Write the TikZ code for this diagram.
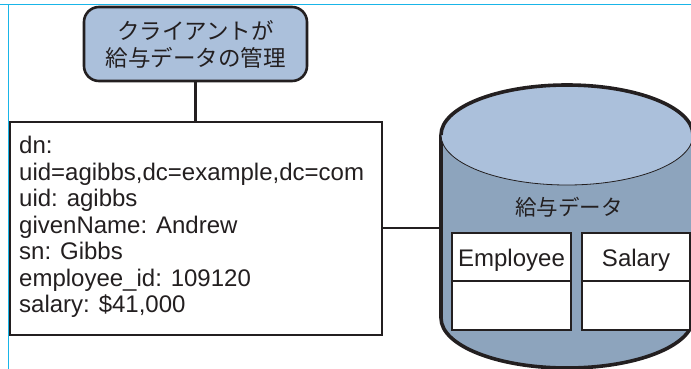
\documentclass[tikz,border=0pt]{standalone}
\usepackage{fontspec}
\setmainfont{Liberation Sans}
\newfontfamily\jpfont{Noto Sans CJK JP}
\definecolor{topblue}{HTML}{ABC0DB}
\definecolor{sideblue}{HTML}{8DA4BD}
\definecolor{ink}{HTML}{231F20}
\definecolor{guide}{HTML}{19B5E8}
\tikzset{
  thickbox/.style={draw=ink,line width=2.2pt,fill=white,inner sep=0pt,outer sep=0pt},
  cell/.style={draw=ink,line width=2pt,fill=white,inner sep=0pt,outer sep=0pt,font=\fontsize{24}{26}\selectfont,text=ink},
  conn/.style={draw=ink,line width=2.2pt},
}
\begin{document}
\begin{tikzpicture}[x=1pt,y=-1pt]
\useasboundingbox (0,0) rectangle (691,369);
\draw[guide,line width=1.1pt] (0,4.7) -- (691,4.7);
\draw[guide,line width=1.1pt] (8.4,4.7) -- (8.4,369);
% client
\node[draw=ink,line width=2.6pt,fill=topblue,rounded corners=15pt,minimum width=223pt,minimum height=74pt,inner sep=0pt,outer sep=0pt,
  align=center,text=ink,font=\jpfont\fontsize{22.5}{27}\selectfont] (client) at (195.5,44) {クライアントが\\給与データの管理};
% entry
\node[thickbox,minimum width=372pt,minimum height=213pt] (entry) at (196,228.5) {};
\node[anchor=north west,inner sep=0pt,align=left,text=ink,font=\fontsize{24}{26.5}\selectfont] (entrytext) at (19,136)
 {dn:\\uid=agibbs,dc=example,dc=com\\uid: agibbs\\givenName: Andrew\\sn: Gibbs\\employee\_id: 109120\\salary: \$41,000};
% cylinder
\begin{scope}
\clip (0,0) rectangle (691,369);
\fill[sideblue] (441,135) -- (441,318) arc[start angle=180,end angle=0,x radius=126,y radius=50] -- (693,135) -- cycle;
\draw[ink,line width=3.6pt] (441,135) -- (441,318) arc[start angle=180,end angle=0,x radius=126,y radius=50] -- (693,135);
\fill[topblue] (567,135) ellipse[x radius=126,y radius=50];
\draw[ink,line width=0.8pt] (441,135) arc[start angle=180,end angle=0,x radius=126,y radius=50];
\draw[ink,line width=3.6pt] (441,135) arc[start angle=180,end angle=360,x radius=126,y radius=50];
\end{scope}
\node[inner sep=0pt,text=ink,font=\jpfont\fontsize{21.5}{26}\selectfont] (dblabel) at (569,207) {給与データ};
\coordinate (dbleft) at (441,228);
% tables
\node[cell,minimum width=119pt,minimum height=48.5pt,text depth=0pt] (emp) at (511.5,257.2) {\raisebox{-2pt}{Employee}};
\node[cell,minimum width=119pt,minimum height=48.5pt] (empb) at (511.5,305.7) {};
\node[cell,minimum width=108pt,minimum height=48.5pt,text depth=0pt] (sal) at (636,257.2) {\raisebox{-2pt}{Salary}};
\node[cell,minimum width=108pt,minimum height=48.5pt] (salb) at (636,305.7) {};
% connectors
\draw[conn] (client.south) -- (entry.north -| client.south);
\draw[conn] (entry.east |- dbleft) -- (dbleft);
\end{tikzpicture}
\end{document}
